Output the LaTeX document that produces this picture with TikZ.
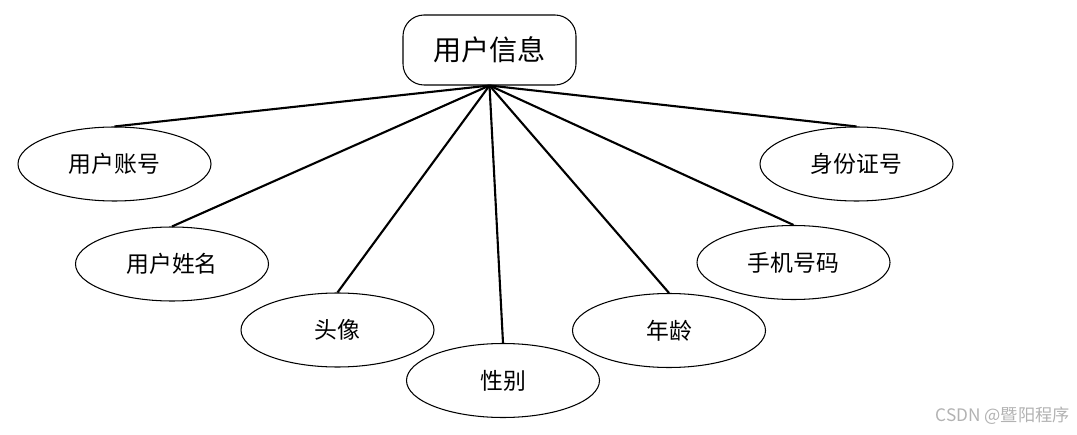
\documentclass[tikz,border=0pt]{standalone}
\usepackage{fontspec}
\setmainfont{Noto Sans CJK SC}
\usetikzlibrary{shapes.geometric}
\begin{document}
\begin{tikzpicture}[x=0.02cm,y=-0.02cm,
  entity/.style={draw=black,line width=0.6pt,rounded corners=12pt,minimum width=173*0.02cm,minimum height=70*0.02cm,inner sep=0pt,font=\fontsize{16}{18}\selectfont},
  attr/.style={ellipse,draw=black,line width=0.6pt,minimum width=193*0.02cm,minimum height=74*0.02cm,inner sep=0pt,font=\fontsize{13}{15}\selectfont},
  link/.style={line width=1.2pt}]
\useasboundingbox (0,0) rectangle (1077,435);
\node[entity] (u) at (489.5,50) {用户信息};
\node[attr] (a1) at (114.5,164) {用户账号};
\node[attr] (a2) at (172,264) {用户姓名};
\node[attr] (a3) at (337.5,330) {头像};
\node[attr] (a4) at (503,380.5) {性别};
\node[attr] (a5) at (669,330.5) {年龄};
\node[attr] (a6) at (793.5,262.5) {手机号码};
\node[attr] (a7) at (856.5,164) {身份证号};
\foreach \n in {a1,a2,a3,a4,a5,a6,a7}
  \draw[link] (u.south) -- (\n.north);
\node[text=black!30,font=\fontsize{9.8}{12}\selectfont,anchor=east,inner sep=0pt] (wm) at (1070,416) {CSDN @暨阳程序};
\end{tikzpicture}
\end{document}
